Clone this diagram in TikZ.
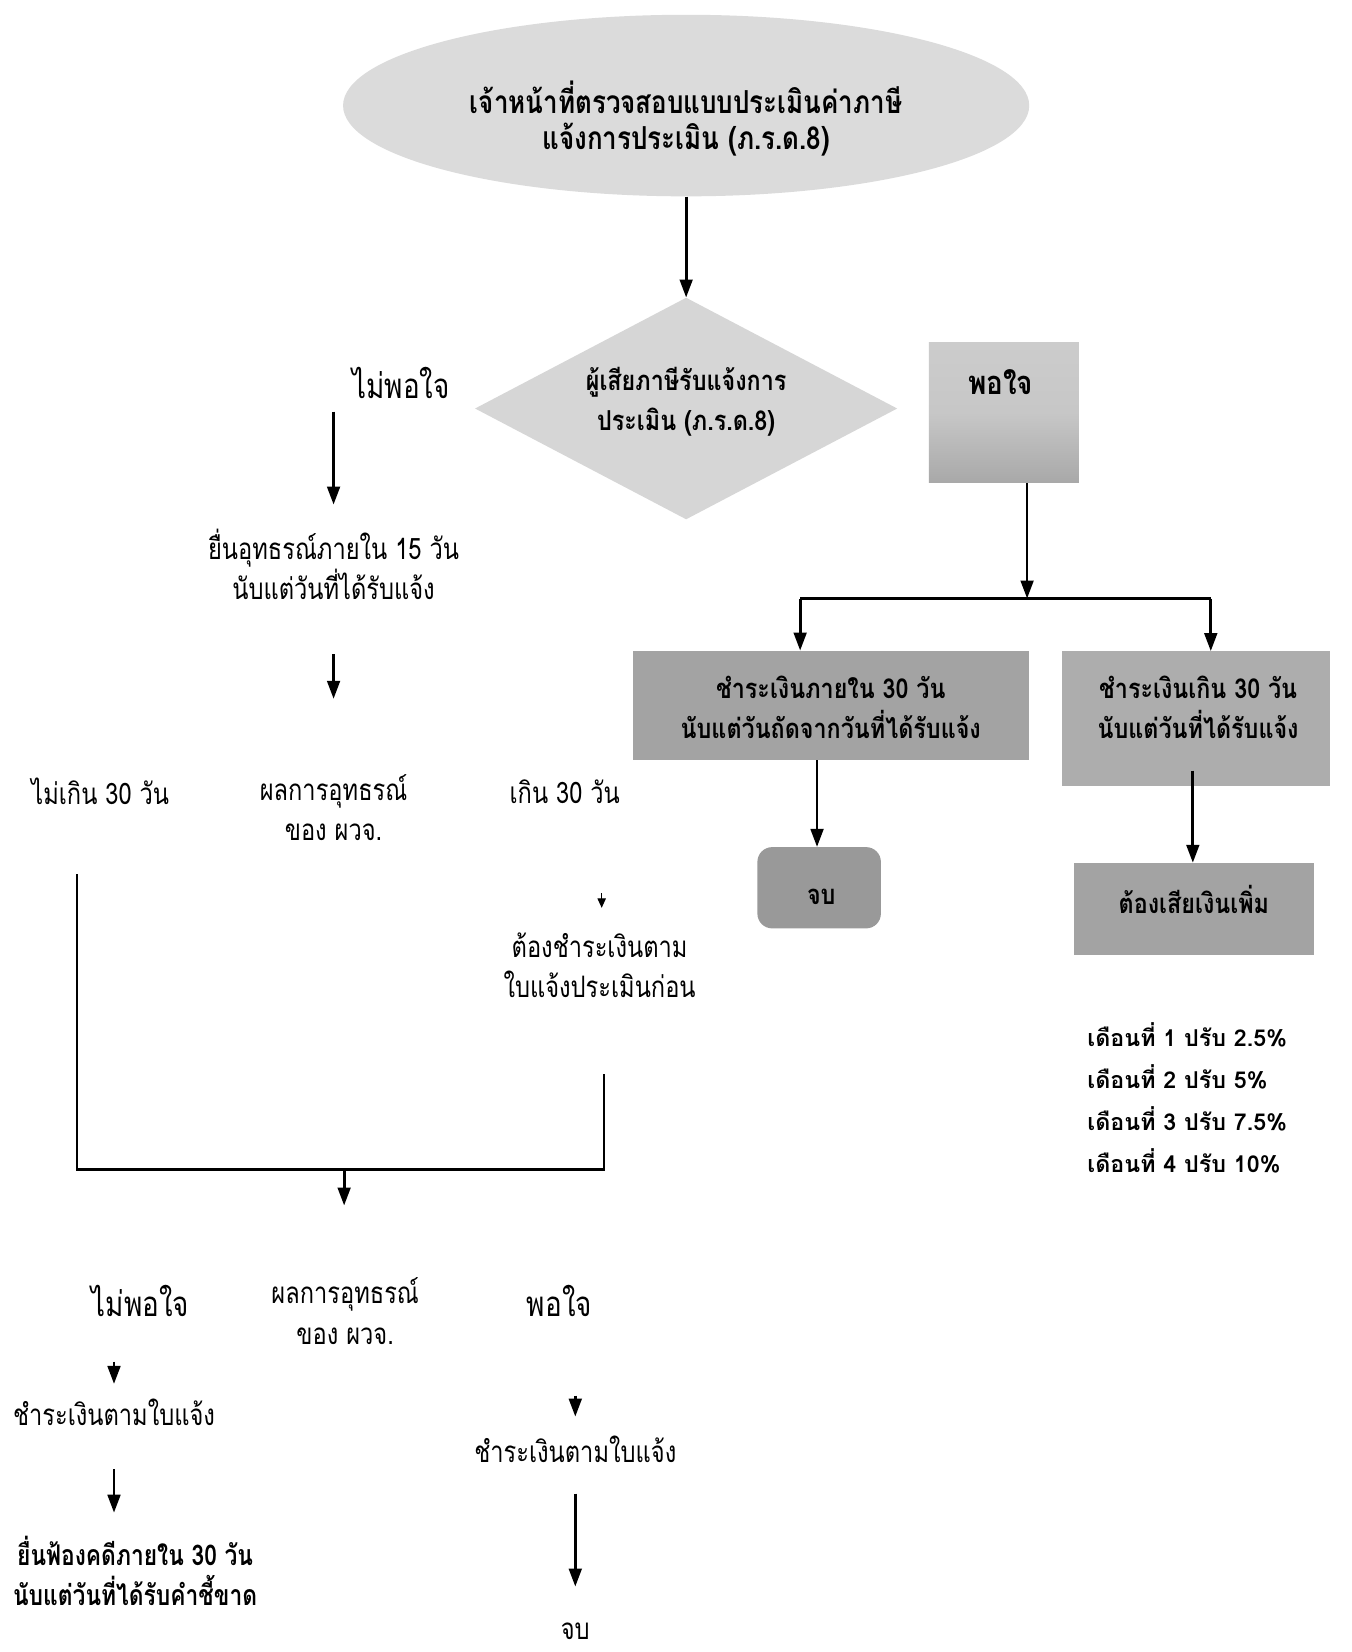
\documentclass[tikz,border=0pt]{standalone}
\usepackage{fontspec}
\newfontfamily\thaifont[Script=Thai]{Loma}
\newfontfamily\thaicond[Script=Thai,FakeStretch=0.8]{Loma}
\newfontfamily\thaicondb[Script=Thai,FakeStretch=0.85]{Loma}
\newfontfamily\thaitop[Script=Thai,FakeStretch=0.82]{Loma}
\usetikzlibrary{shapes.geometric,arrows.meta}
\tikzset{
  arr/.style={line width=2.6pt,-{Triangle[length=17pt,width=12pt]}},
  ln/.style={line width=2.2pt},
  txt/.style={font=\thaicond\fontsize{28}{38}\selectfont,align=center,inner sep=0pt},
  bigtxt/.style={font=\thaicond\fontsize{33}{38}\selectfont,align=center,inner sep=0pt},
  btxt/.style={font=\thaicondb\bfseries\fontsize{26}{38}\selectfont,align=center,inner sep=0pt},
  ttxt/.style={font=\thaitop\bfseries\fontsize{30}{34}\selectfont,align=center,inner sep=0pt},
  ltxt/.style={font=\thaifont\bfseries\fontsize{22}{40}\selectfont,align=left,inner sep=0pt},
  light/.style={fill=black!14,draw=none,inner sep=0pt},
  mid/.style={fill=black!36,draw=none,inner sep=0pt},
}
\begin{document}
\begin{tikzpicture}[x=1pt,y=-1pt]
\useasboundingbox[fill=white] (0,0) rectangle (1280,1565);

% top ellipse
\node[ellipse,light,minimum width=650,minimum height=172] (ell) at (650,100) {};
\node[ttxt] (ellt) at (650,112) {เจ้าหน้าที่ตรวจสอบแบบประเมินค่าภาษี\\แจ้งการประเมิน (ภ.ร.ด.8)};

% diamond
\node[diamond,light,fill=black!16,minimum width=400,minimum height=210,aspect=1.9] (dia) at (650,387) {};
\node[btxt] (diat) at (650,381) {ผู้เสียภาษีรับแจ้งการ\\ประเมิน (ภ.ร.ด.8)};
\draw[arr] (ell.south) -- (dia.north);

% satisfied box
\node[draw=none,inner sep=0pt,minimum width=142,minimum height=133,top color=black!20,bottom color=black!34,middle color=black!22] (ok) at (951,391) {};
\node[btxt,font=\thaicondb\bfseries\fontsize{31}{38}\selectfont] (okt) at (948,362) {พอใจ};
\coordinate (okb) at (973,458);
\coordinate (split) at (973,567);
\draw[arr] (okb) -- (split);

% two payment boxes
\node[mid,minimum width=375,minimum height=103] (pa) at (787,668) {};
\node[btxt] (pat) at (787,670) {ชำระเงินภายใน 30 วัน\\นับแต่วันถัดจากวันที่ได้รับแจ้ง};
\node[mid,fill=black!32,minimum width=253,minimum height=128] (pb) at (1133,681) {};
\node[btxt] (pbt) at (1135,670) {ชำระเงินเกิน 30 วัน\\นับแต่วันที่ได้รับแจ้ง};
\coordinate (sl) at (758,567);
\coordinate (sr) at (1147,567);
\draw[ln] (sl) -- (sr);
\draw[arr] (sl) -- (sl |- pa.north);
\draw[arr] (sr) -- (sr |- pb.north);

% end and extra
\node[mid,fill=black!40,rounded corners=14pt,minimum width=117,minimum height=77] (end1) at (776,841) {};
\node[btxt] (end1t) at (778,850) {จบ};
\node[mid,minimum width=228,minimum height=87] (extra) at (1131,861) {};
\node[btxt] (extrat) at (1131,852) {ต้องเสียเงินเพิ่ม};
\coordinate (pab) at (774,720);
\draw[arr] (pab) -- (pab |- end1.north);
\coordinate (pbb) at (1130,730);
\draw[arr] (pbb) -- (pbb |- extra.north);

% fines list
\node[ltxt,anchor=west] (fine) at (1030,1040) {เดือนที่ 1 ปรับ 2.5\%\\เดือนที่ 2 ปรับ 5\%\\เดือนที่ 3 ปรับ 7.5\%\\เดือนที่ 4 ปรับ 10\%};

% left branch
\node[bigtxt] (notok) at (380,363) {ไม่พอใจ};
\coordinate (a1s) at (316,390);
\coordinate (a1e) at (316,478);
\draw[arr] (a1s) -- (a1e);
\node[txt] (appeal) at (316,535) {ยื่นอุทธรณ์ภายใน 15 วัน\\นับแต่วันที่ได้รับแจ้ง};
\coordinate (a2s) at (316,620);
\coordinate (a2e) at (316,662);
\draw[arr] (a2s) -- (a2e);
\node[txt] (res1) at (316,765) {ผลการอุทธรณ์\\ของ ผวจ.};
\node[txt] (le30) at (95,750) {ไม่เกิน 30 วัน};
\node[txt] (gt30) at (535,750) {เกิน 30 วัน};
\coordinate (a3s) at (570,846);
\coordinate (a3e) at (570,860);
\draw[line width=1pt,-{Triangle[length=9pt,width=8pt]}] (a3s) -- (a3e);
\node[txt] (mustpay) at (568,914) {ต้องชำระเงินตาม\\ใบแจ้งประเมินก่อน};

% joining lines
\coordinate (jl) at (73,828);
\coordinate (jr) at (572,1017);
\coordinate (jm) at (326,1108);
\draw[ln] (jl) -- (73,1108) -- (572,1108) -- (jr);
\coordinate (a4e) at (326,1142);
\draw[arr] (jm) -- (a4e);

% second result
\node[txt] (res2) at (327,1242) {ผลการอุทธรณ์\\ของ ผวจ.};
\node[bigtxt] (notok2) at (133,1232) {ไม่พอใจ};
\node[bigtxt] (ok2) at (530,1232) {พอใจ};

\coordinate (a5s) at (108,1290);
\coordinate (a5e) at (108,1311);
\draw[arr] (a5s) -- (a5e);
\node[txt] (pay1) at (108,1338) {ชำระเงินตามใบแจ้ง};
\coordinate (a6s) at (108,1392);
\coordinate (a6e) at (108,1433);
\draw[arr] (a6s) -- (a6e);
\node[btxt,font=\thaicond\bfseries\fontsize{27}{38}\selectfont] (sue) at (128,1488) {ยื่นฟ้องคดีภายใน 30 วัน\\นับแต่วันที่ได้รับคำชี้ขาด};

\coordinate (a7s) at (545,1322);
\coordinate (a7e) at (545,1342);
\draw[arr] (a7s) -- (a7e);
\node[txt] (pay2) at (545,1373) {ชำระเงินตามใบแจ้ง};
\coordinate (a8s) at (545,1415);
\coordinate (a8e) at (545,1503);
\draw[arr] (a8s) -- (a8e);
\node[txt] (end2) at (545,1545) {จบ};
\end{tikzpicture}
\end{document}
